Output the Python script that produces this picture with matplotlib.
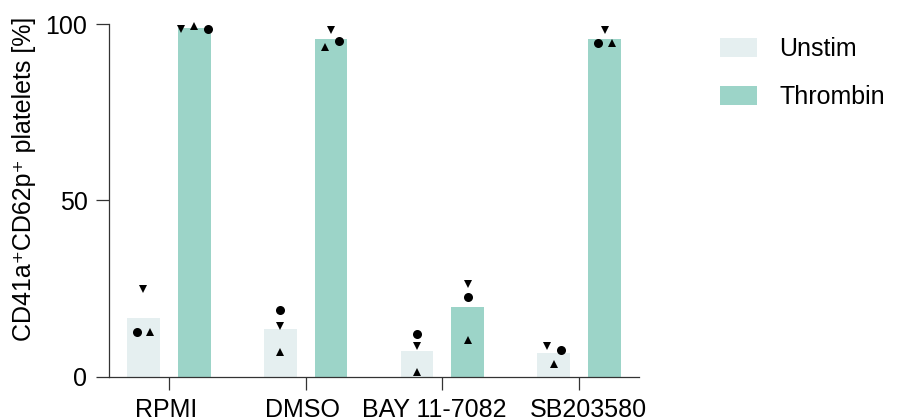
import matplotlib
matplotlib.use("Agg")
import matplotlib.pyplot as plt
import matplotlib.transforms as mtransforms
from matplotlib.patches import Patch
import numpy as np

plt.rcParams["font.family"] = ["Liberation Sans", "DejaVu Sans"]

# --- data -------------------------------------------------------------
categories = ["RPMI", "DMSO", "BAY 11-7082", "SB203580"]
conditions = ["Unstim", "Thrombin"]

unstim_mean = [16.7, 13.4, 7.4, 6.6]
thrombin_mean = [98.8, 95.7, 19.8, 95.8]

# individual donors: circle, up-triangle, down-triangle
unstim_circle = [12.6, 18.8, 12.0, 7.5]
unstim_up = [12.8, 7.1, 1.4, 3.6]
unstim_down = [24.8, 14.5, 8.8, 8.7]

thrombin_circle = [98.6, 95.3, 22.7, 94.7]
thrombin_up = [99.4, 93.6, 10.4, 94.5]
thrombin_down = [98.6, 98.3, 26.2, 98.3]

yticks = [0, 50, 100]

# --- layout -----------------------------------------------------------
colors = {"Unstim": "#e5eff0", "Thrombin": "#9cd4c8"}
bar_w = 0.24
bar_off = 0.186
# horizontal spread of the donor symbols within each bar (axis units)
spread_unstim = {"o": [-0.05, 0, 0, 0.05], "^": [0.05, 0, 0, 0], "v": [0, 0, 0, -0.05]}
spread_thrombin = {"o": [0.10, 0.058, 0, -0.05], "^": [0, -0.045, 0, 0.055], "v": [-0.1, 0, 0, 0]}
# nudges (points) keeping the long category names apart
label_nudge = [-2, -2, -6, 6.5]

fs = 18

fig = plt.figure(figsize=(9.01, 4.19), dpi=100)
ax = fig.add_axes([109 / 901, 1 - 376.7 / 419, (639 - 109) / 901, (376.7 - 24) / 419])

x = np.arange(len(categories))
ax.bar(x - bar_off, unstim_mean, width=bar_w, color=colors["Unstim"], zorder=1)
ax.bar(x + bar_off, thrombin_mean, width=bar_w, color=colors["Thrombin"], zorder=1)

ms = 6.5
for vals, mk, spread, sign in [
    (unstim_circle, "o", spread_unstim, -1), (unstim_up, "^", spread_unstim, -1),
    (unstim_down, "v", spread_unstim, -1),
    (thrombin_circle, "o", spread_thrombin, 1), (thrombin_up, "^", spread_thrombin, 1),
    (thrombin_down, "v", spread_thrombin, 1),
]:
    xs = x + sign * bar_off + np.array(spread[mk])
    size = ms if mk == "o" else ms * 0.95
    ax.plot(xs, vals, linestyle="none", marker=mk, color="black", markersize=size,
            markeredgewidth=0, zorder=3, clip_on=False)

ax.set_xlim(-0.438, 3.438)
ax.set_ylim(0, 100)
ax.set_xticks(x)
ax.set_xticklabels(categories, fontsize=fs)
ax.set_yticks(yticks)
ax.set_yticklabels([str(t) for t in yticks], fontsize=fs)
ax.tick_params(axis="both", length=9.5, width=0.9, color="#333333", pad=6)
ax.tick_params(axis="y", pad=6)
for side in ["top", "right"]:
    ax.spines[side].set_visible(False)
for side in ["left", "bottom"]:
    ax.spines[side].set_linewidth(0.9)
    ax.spines[side].set_color("#333333")

for lbl, dx in zip(ax.get_xticklabels(), label_nudge):
    lbl.set_transform(lbl.get_transform() +
                      mtransforms.ScaledTranslation(dx / 72, 0, fig.dpi_scale_trans))

ax.set_ylabel("CD41a\u207aCD62p\u207a platelets [%]", fontsize=fs)
ax.yaxis.set_label_coords(-0.138, 0.56)

handles = [Patch(facecolor=colors[c], edgecolor="none", label=c) for c in conditions]
fig.legend(handles=handles, loc="upper left", bbox_to_anchor=(697 / 901, 1 - 15 / 419),
           frameon=False, fontsize=fs, handlelength=1.5, handleheight=0.8,
           handletextpad=0.9, labelspacing=0.95)

fig.savefig("out.png", dpi=100)
